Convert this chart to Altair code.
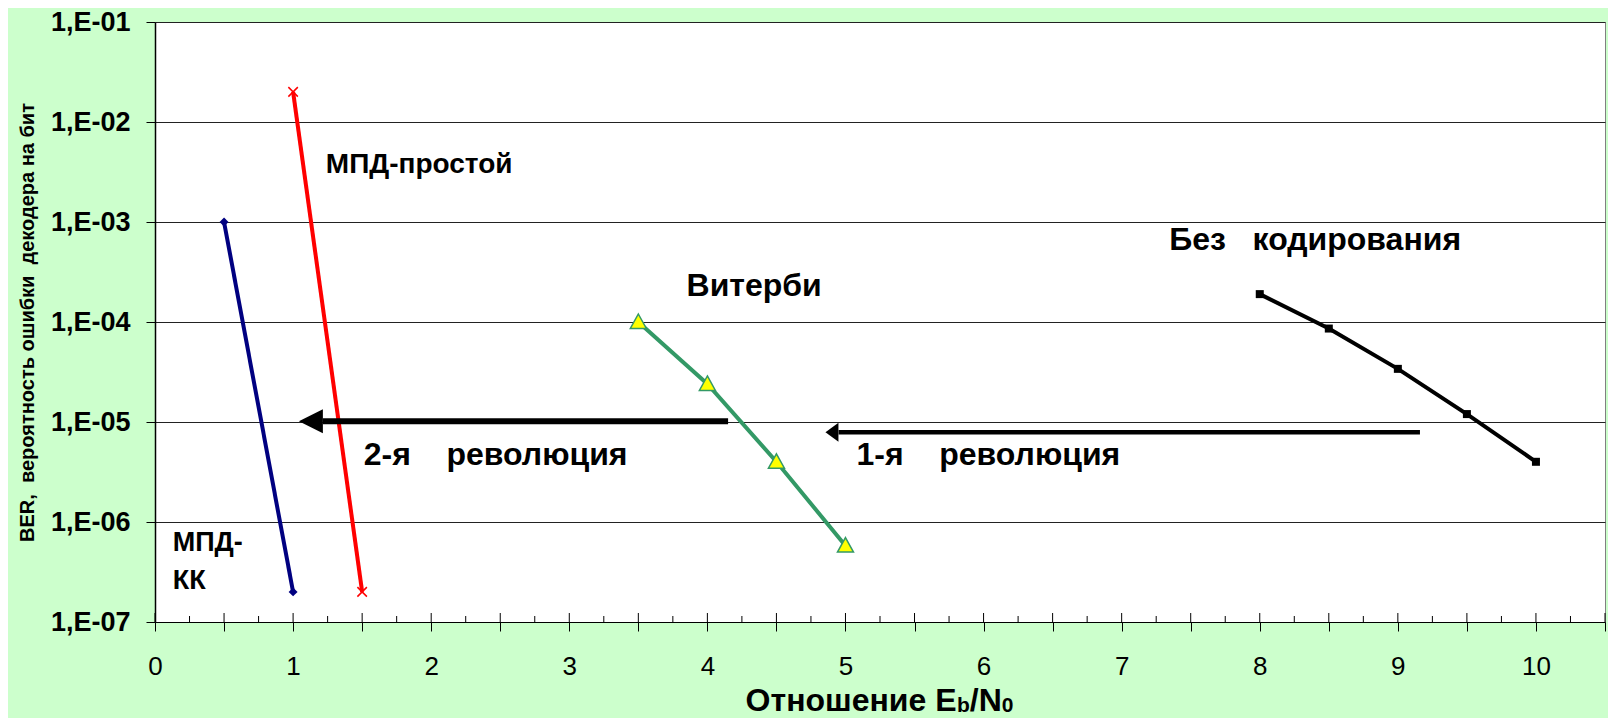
import altair as alt
import pandas as pd

# ---------------- data ----------------
mpd_kk_x = [0.5, 1.0]
mpd_kk_y = [1.0e-3, 2.0e-7]

mpd_simple_x = [1.0, 1.5]
mpd_simple_y = [2.0e-2, 2.0e-7]

viterbi_x = [3.5, 4.0, 4.5, 5.0]
viterbi_y = [1.0e-4, 2.4e-5, 4.0e-6, 5.8e-7]

uncoded_x = [8.0, 8.5, 9.0, 9.5, 10.0]
uncoded_y = [1.9e-4, 8.6e-5, 3.4e-5, 1.2e-5, 4.0e-6]

# arrows: [1-я революция, 2-я революция]
arrow_tail_x = [9.16, 4.15]
arrow_base_x = [4.95, 1.215]
arrow_tip_x = [4.855, 1.042]
arrow_y = [7.9e-6, 1.02e-5]

label_text = ["МПД-простой", "Без\u00a0\u00a0\u00a0кодирования", "Витерби",
              "2-я\u00a0\u00a0\u00a0\u00a0революция", "1-я\u00a0\u00a0\u00a0\u00a0революция",
              "МПД-", "КК"]
label_x = [1.237, 7.344, 3.849, 1.512, 5.08, 0.128, 0.128]
label_y = [3.74e-3, 6.65e-4, 2.28e-4, 4.66e-6, 4.66e-6, 6.1e-7, 2.6e-7]
label_size = [28, 32, 32, 32, 32, 27, 27]

y_ticks = [1e-7, 1e-6, 1e-5, 1e-4, 1e-3, 1e-2, 1e-1]
x_ticks = [0, 0.25, 0.5, 0.75, 1, 1.25, 1.5, 1.75, 2, 2.25, 2.5, 2.75, 3, 3.25, 3.5, 3.75,
           4, 4.25, 4.5, 4.75, 5, 5.25, 5.5, 5.75, 6, 6.25, 6.5, 6.75, 7, 7.25, 7.5, 7.75,
           8, 8.25, 8.5, 8.75, 9, 9.25, 9.5, 9.75, 10, 10.25, 10.5]

y_title = "BER,\u00a0 вероятность ошибки\u00a0 декодера на бит"

FONT = "Liberation Sans"

xs = alt.Scale(domain=[0, 10.5], nice=False, zero=False)
ys = alt.Scale(type="log", domain=[1e-7, 1e-1], nice=False)

tick_cond = {"condition": {"test": "datum.value % 0.5 === 0", "value": 9}, "value": 6}

x_axis_bottom = alt.Axis(
    values=x_ticks, labelExpr="datum.value % 1 === 0 ? format(datum.value, 'd') : ''",
    labelOverlap=False, labelFlush=False, labelFont=FONT, labelFontSize=26,
    labelColor="black", labelPadding=22, tickColor="black", tickSize=tick_cond,
    domainColor="black", domainWidth=1, grid=False, title=None)
y_axis = alt.Axis(
    values=y_ticks, labelExpr="'1,E-0' + format(-log(datum.value)/LN10, '.0f')",
    labelFont=FONT, labelFontSize=27, labelFontWeight="bold", labelColor="black",
    labelPadding=16, labelFlush=False, labelOverlap=False, tickSize=9, tickColor="black",
    domainColor="black", domainWidth=1.5, grid=True, gridColor="#222222", gridWidth=1,
    title=y_title, titleFont=FONT, titleFontSize=20, titleFontWeight="bold",
    titleColor="black", titlePadding=13)


def series_df(x, y):
    return pd.DataFrame({"x": x, "y": y})


def enc(chart, xaxis=None, yaxis=None):
    xkw = {"scale": xs}
    ykw = {"scale": ys}
    if xaxis is not None:
        xkw["axis"] = xaxis
    if yaxis is not None:
        ykw["axis"] = yaxis
    return chart.encode(x=alt.X("x:Q", **xkw), y=alt.Y("y:Q", **ykw))


layers = []

# Без кодирования (carries the axes)
d = series_df(uncoded_x, uncoded_y)
layers.append(enc(alt.Chart(d).mark_line(color="black", strokeWidth=4), x_axis_bottom, y_axis))
layers.append(enc(alt.Chart(d).mark_point(shape="square", size=64, filled=True, color="black", opacity=1)))

# inner parts of the x-axis ticks
td = pd.DataFrame({"x": x_ticks})
layers.append(alt.Chart(td).transform_filter("datum.x % 0.5 === 0").mark_rule(
    color="black", strokeWidth=1).encode(
    x=alt.X("x:Q", scale=xs), y=alt.value(591), y2=alt.value(600)))
layers.append(alt.Chart(td).transform_filter("datum.x % 0.5 !== 0").mark_rule(
    color="black", strokeWidth=1).encode(
    x=alt.X("x:Q", scale=xs), y=alt.value(594), y2=alt.value(600)))

# МПД-КК
d = series_df(mpd_kk_x, mpd_kk_y)
layers.append(enc(alt.Chart(d).mark_line(color="#000080", strokeWidth=4)))
layers.append(enc(alt.Chart(d).mark_point(shape="diamond", size=80, filled=True, color="#000080", opacity=1)))

# МПД-простой
d = series_df(mpd_simple_x, mpd_simple_y)
layers.append(enc(alt.Chart(d).mark_line(color="#FF0000", strokeWidth=4)))
layers.append(enc(alt.Chart(d).mark_point(shape="M-1,-1L1,1M-1,1L1,-1", size=90, filled=False,
                                          stroke="#FF0000", strokeWidth=1.5, opacity=1)))

# Витерби
d = series_df(viterbi_x, viterbi_y)
layers.append(enc(alt.Chart(d).mark_line(color="#339966", strokeWidth=4)))
layers.append(enc(alt.Chart(d).mark_point(shape="M0,-1L1,0.8L-1,0.8Z", size=256, filled=True,
                                          fill="#FFFF00", stroke="#339966", strokeWidth=1.5,
                                          opacity=1)))

# arrows
for i, (w, path, sz) in enumerate([(4.5, "M0,0L1.37,-1L1.37,1Z", 361), (6, "M0,0L2,-1L2,1Z", 576)]):
    ad = pd.DataFrame({"x": [arrow_tail_x[i]], "x2": [arrow_base_x[i]],
                       "tip": [arrow_tip_x[i]], "y": [arrow_y[i]]})
    layers.append(alt.Chart(ad).mark_rule(color="black", strokeWidth=w).encode(
        x=alt.X("x:Q", scale=xs), x2="x2:Q",
        y=alt.Y("y:Q", scale=ys)))
    layers.append(alt.Chart(ad).mark_point(shape=path, size=sz, filled=True, color="black",
                                           opacity=1).encode(
        x=alt.X("tip:Q", scale=xs),
        y=alt.Y("y:Q", scale=ys)))

# text labels
ld = pd.DataFrame({"x": label_x, "y": label_y, "t": label_text, "s": label_size})
layers.append(alt.Chart(ld).mark_text(font=FONT, fontWeight="bold", color="black",
                                      align="left", baseline="middle").encode(
    x=alt.X("x:Q", scale=xs), y=alt.Y("y:Q", scale=ys), text="t:N",
    size=alt.Size("s:Q", scale=None, legend=None)))

# x-axis title with subscripts
title_parts = ["Отношение E", "b", "/N", "0"]
title_sizes = [32, 21, 32, 21]
title_px = [801.5, 802, 814.8, 846.8]
title_py = [689, 690, 689, 690]
title_align = ["right", "left", "left", "left"]
for t, s, px, py, al in zip(title_parts, title_sizes, title_px, title_py, title_align):
    tdf = pd.DataFrame({"t": [t]})
    layers.append(alt.Chart(tdf).mark_text(font=FONT, fontSize=s, fontWeight="bold", color="black",
                                           align=al, baseline="alphabetic").encode(
        x=alt.value(px), y=alt.value(py), text="t:N"))

chart = alt.layer(*layers).properties(
    width=1450, height=600,
    padding={"left": 147, "top": 14, "right": 3, "bottom": 96},
    autosize=alt.AutoSizeParams(type="none"),
).configure(background="#CCFFCC").configure_view(fill="white", stroke="#808080", strokeWidth=1)

chart.save("out.html", embed_options={"renderer": "svg", "actions": False})
